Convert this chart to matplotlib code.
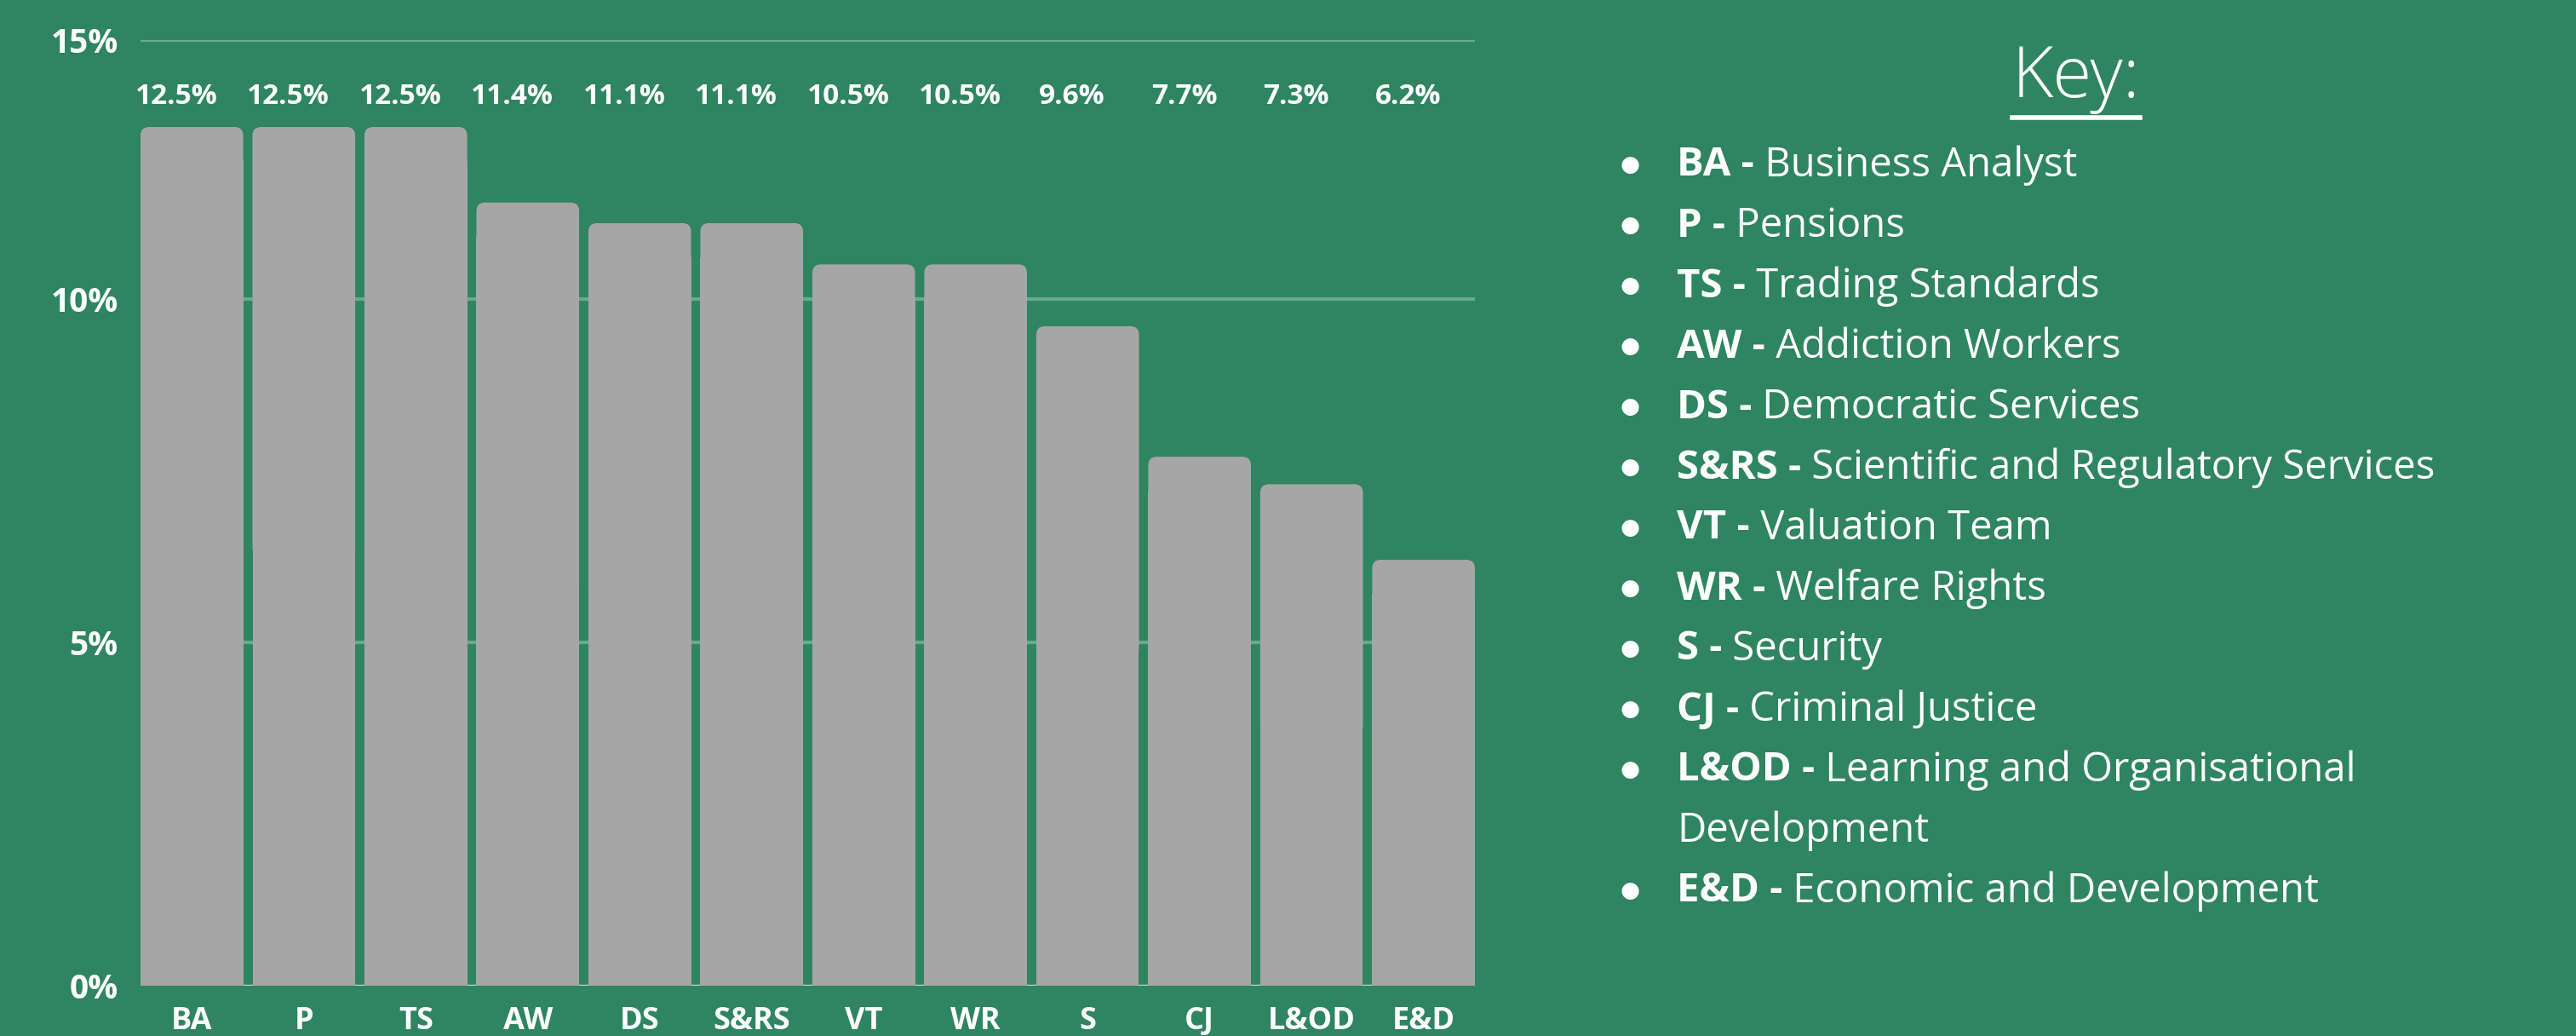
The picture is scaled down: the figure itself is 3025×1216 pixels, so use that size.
import matplotlib
matplotlib.use("Agg")
import matplotlib.pyplot as plt
from matplotlib.patches import FancyBboxPatch
from matplotlib.lines import Line2D

# data
codes = ["BA", "P", "TS", "AW", "DS", "S&RS", "VT", "WR", "S", "CJ", "L&OD", "E&D"]
values = [12.5, 12.5, 12.5, 11.4, 11.1, 11.1, 10.5, 10.5, 9.6, 7.7, 7.3, 6.2]
value_labels = ["12.5%", "12.5%", "12.5%", "11.4%", "11.1%", "11.1%",
                "10.5%", "10.5%", "9.6%", "7.7%", "7.3%", "6.2%"]
ytick_vals = [0, 5, 10, 13.77]
ytick_labels = ["0%", "5%", "10%", "15%"]
key_codes = ["BA", "P", "TS", "AW", "DS", "S&RS", "VT", "WR", "S", "CJ", "L&OD", "E&D"]
key_names = ["Business Analyst", "Pensions", "Trading Standards", "Addiction Workers",
             "Democratic Services", "Scientific and Regulatory Services", "Valuation Team",
             "Welfare Rights", "Security", "Criminal Justice",
             "Learning and Organisational\nDevelopment", "Economic and Development"]

bg = "#2E8560"
bar_col = "#A6A6A6"
grid_col = "#6AAA8C"
fam = ["Open Sans", "Lato", "DejaVu Sans"]

fig = plt.figure(figsize=(30.25, 12.16), dpi=100, facecolor=bg)
ax = fig.add_axes([0.05455, 0.04852, 0.5180, 0.9131])
ax.set_facecolor(bg)

x = list(range(len(codes)))
w = 0.917
ax.set_xlim(-w / 2, len(codes) - 1 + w / 2)
ax.set_ylim(0, 13.77)

# square lower part + rounded top cap
bars = ax.bar(x, [v - 0.5 for v in values], width=w, color=bar_col, zorder=2)
for b, v in zip(bars, values):
    cap = FancyBboxPatch((b.get_x(), v / 2), w, v / 2,
                         boxstyle="round,pad=0,rounding_size=0.075",
                         mutation_aspect=1.65, fc=bar_col, ec="none", zorder=2)
    ax.add_patch(cap)

for yv in [5, 10, 13.77]:
    ax.axhline(yv, color=grid_col, lw=3, zorder=1)
ax.axhline(0, color="#A9D6BE", lw=2.5, zorder=1)

for xi, lab in zip(x, value_labels):
    ax.annotate(lab, xy=(xi, 0.94), xycoords=("data", "axes fraction"),
                xytext=(-13, 0), textcoords="offset points",
                ha="center", va="center", color="white", fontsize=24,
                fontweight="bold", family=fam)

for s in ax.spines.values():
    s.set_visible(False)
ax.set_xticks(x)
ax.set_xticklabels(codes, fontsize=26, fontweight="bold", color="white", family=fam)
ax.set_yticks(ytick_vals)
ax.set_yticklabels(ytick_labels, fontsize=28, fontweight="bold", color="white", family=fam)
ax.tick_params(axis="x", length=0, pad=17)
ax.tick_params(axis="y", length=0, pad=19)

# key
W, H = 3025, 1216
key = fig.text(2438 / W, 1 - 93 / H, "Key:", ha="center", va="center",
               fontsize=60, fontweight="light", color="white", family=fam)
fig.canvas.draw()
r = fig.canvas.get_renderer()
kb = key.get_window_extent(r)
fig.add_artist(Line2D([kb.x0 / W, kb.x1 / W], [1 - 138 / H, 1 - 138 / H],
                      transform=fig.transFigure, color="white", lw=4))

row = 0
y0, step = 194, 71
for c, n in zip(key_codes, key_names):
    yy = 1 - (y0 + step * row) / H
    fig.text(1914 / W, yy, "\u25CF", ha="center", va="center", fontsize=19,
             color="white", family=["DejaVu Sans"])
    lines = n.split("\n")
    t = fig.text(1969 / W, yy, c + " -", ha="left", va="center", fontsize=34,
                 fontweight="bold", color="white", family=fam)
    fig.canvas.draw()
    tb = t.get_window_extent(r)
    fig.text(tb.x1 / W, yy, " " + lines[0], ha="left", va="center", fontsize=34,
             color="white", family=fam)
    for extra in lines[1:]:
        row += 1
        yy = 1 - (y0 + step * row) / H
        fig.text(1969 / W, yy, extra, ha="left", va="center", fontsize=34,
                 color="white", family=fam)
    row += 1

fig.savefig("out.png", dpi=100, facecolor=bg)
